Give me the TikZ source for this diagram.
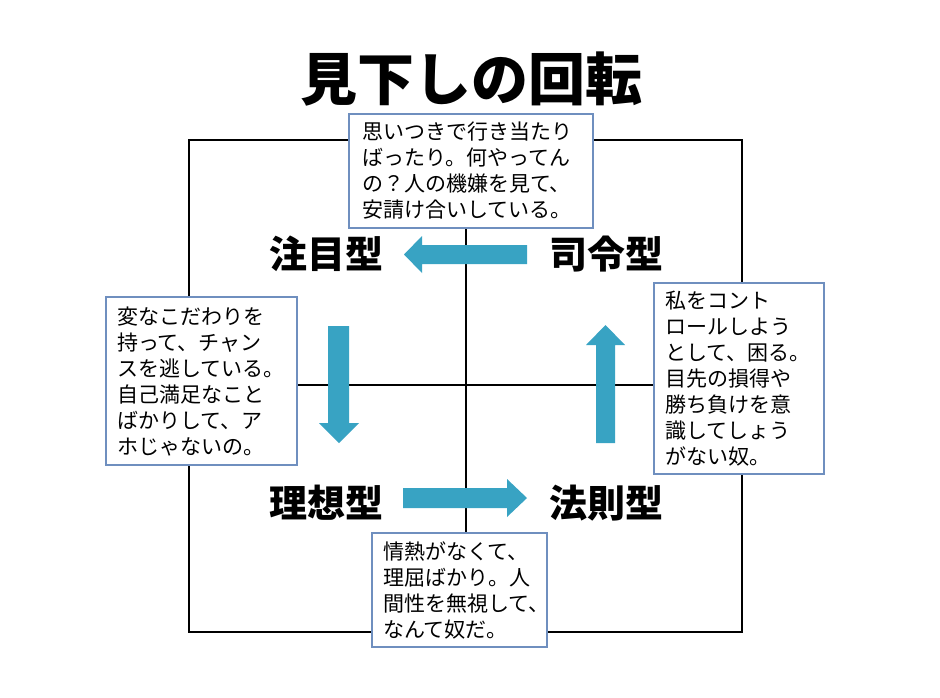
\documentclass[tikz,border=0pt]{standalone}
\usepackage{fontspec}
\newfontfamily\jp{Noto Sans CJK JP}
\newfontfamily\jpblack{Noto Sans CJK JP Black}
\definecolor{arrowblue}{HTML}{38A3C3}
\definecolor{boxedge}{HTML}{6F8FBF}
\begin{document}
\begin{tikzpicture}[x=1pt,y=-1pt,
  note/.style={draw=boxedge,line width=1.8pt,fill=white,align=left,inner xsep=11pt,inner ysep=0pt,
    font=\jp\fontsize{21}{26}\selectfont},
  quad/.style={font=\jpblack\fontsize{38}{40}\selectfont,inner sep=0pt},
  blockarrow/.style={fill=arrowblue,draw=none},
  frame/.style={draw=black,line width=1.6pt}]
\useasboundingbox[fill=white] (0,0) rectangle (940,697);
% frame and cross
\coordinate (tl) at (189,140);
\coordinate (br) at (742,632);
\coordinate (vt) at (466,140);
\coordinate (vb) at (466,632);
\coordinate (hl) at (189,385);
\coordinate (hr) at (742,385);
\draw[frame] (tl) rectangle (br);
\draw[frame] (vt) -- (vb);
\draw[frame] (hl) -- (hr);
% title
\node[font=\jpblack\fontsize{57}{60}\selectfont,inner sep=0pt] (title) at (471,79) {見下しの回転};
% quadrant labels
\node[quad] (chumoku) at (326,254) {注目型};
\node[quad] (shirei) at (606,254) {司令型};
\node[quad] (riso) at (326,503) {理想型};
\node[quad] (hosoku) at (606,503) {法則型};
% block arrows
\fill[blockarrow] (527,245) -- (422,245) -- (422,236) -- (404,254.5) -- (422,273) -- (422,264) -- (527,264) -- cycle;
\fill[blockarrow] (328,326) -- (328,423) -- (319,423) -- (339,443) -- (359,423) -- (349,423) -- (349,326) -- cycle;
\fill[blockarrow] (596,443) -- (596,345) -- (586,345) -- (605.5,325) -- (625,345) -- (615,345) -- (615,443) -- cycle;
\fill[blockarrow] (403,488) -- (507,488) -- (507,479) -- (527,498) -- (507,517) -- (507,508) -- (403,508) -- cycle;
% notes
\node[note,text width=218pt,minimum width=244pt,minimum height=114pt] (ntop) at (471,171)
  {思いつきで行き当たり\\ばったり。何やってん\\の？人の機嫌を見て、\\安請け合いしている。};
\node[note,text width=169pt,minimum width=191pt,minimum height=168pt] (nleft) at (201.5,381)
  {変なこだわりを\\持って、チャン\\スを逃している。\\自己満足なこと\\ばかりして、ア\\ホじゃないの。};
\node[note,text width=148pt,minimum width=170pt,minimum height=191pt] (nright) at (739,378.5)
  {私をコント\\ロールしよう\\として、困る。\\目先の損得や\\勝ち負けを意\\識してしょう\\がない奴。};
\node[note,text width=153pt,minimum width=175pt,minimum height=114pt] (nbottom) at (459.5,590)
  {情熱がなくて、\\理屈ばかり。人\\間性を無視して、\\なんて奴だ。};
\end{tikzpicture}
\end{document}
